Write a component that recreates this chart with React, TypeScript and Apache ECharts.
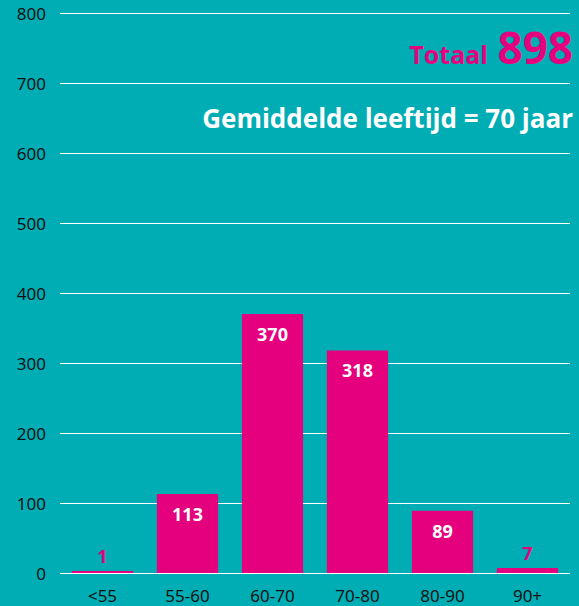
import React, { useEffect, useRef } from "react";
import * as echarts from "echarts";

const categories = ["<55", "55-60", "60-70", "70-80", "80-90", "90+"];
const values = [1, 113, 370, 318, 89, 7];
const yTicks = { min: 0, max: 800, interval: 100 };
const totalLabel = "Totaal";
const totalValue = "898";
const subtitle = "Gemiddelde leeftijd = 70 jaar";

const TEAL = "#00ADB4";
const MAGENTA = "#E5007E";

export default function App() {
  const ref = useRef<HTMLDivElement>(null);
  useEffect(() => {
    if (!ref.current) return;
    const chart = echarts.init(ref.current, null, { renderer: "svg" });
    const data = values.map((v) => {
      const small = v < 50;
      return {
        value: v,
        label: small
          ? { position: "top", color: MAGENTA, distance: 6 }
          : { position: "insideTop", color: "#fff", distance: 11 },
      };
    });
    chart.setOption({
      animation: false,
      backgroundColor: TEAL,
      grid: { left: 60, right: 9, top: 13, bottom: 33 },
      textStyle: { fontFamily: "Noto Sans" },
      xAxis: {
        type: "category",
        data: categories,
        axisLine: { show: false },
        axisTick: { show: false },
        axisLabel: { color: "#111", fontSize: 17, margin: 14, fontFamily: "Noto Sans" },
      },
      yAxis: {
        type: "value",
        min: yTicks.min,
        max: yTicks.max,
        interval: yTicks.interval,
        axisLine: { show: false },
        axisTick: { show: false },
        axisLabel: { color: "#111", fontSize: 17, margin: 14, fontFamily: "Noto Sans" },
        splitLine: { lineStyle: { color: "#fff", width: 1 } },
      },
      series: [
        {
          type: "bar",
          data,
          barCategoryGap: "28%",
          itemStyle: { color: MAGENTA },
          barMinHeight: 2,
          label: {
            show: true,
            fontSize: 18,
            fontWeight: "bold",
            fontFamily: "Open Sans",
          },
        },
      ],
      graphic: [
        {
          type: "text",
          x: 573,
          y: 47,
          style: {
            text: totalValue,
            fontSize: 44,
            fontWeight: "bold",
            fill: MAGENTA,
            fontFamily: "Open Sans",
            align: "right",
            verticalAlign: "middle",
          },
        },
        {
          type: "text",
          x: 488,
          y: 54,
          style: {
            text: totalLabel,
            fontSize: 25,
            fontWeight: "bold",
            fill: MAGENTA,
            fontFamily: "Open Sans",
            align: "right",
            verticalAlign: "middle",
          },
        },
        {
          type: "text",
          x: 573,
          y: 118,
          style: {
            text: subtitle,
            fontSize: 26,
            fontWeight: "bold",
            fill: "#fff",
            fontFamily: "Open Sans",
            align: "right",
            verticalAlign: "middle",
          },
        },
      ],
    });
    return () => chart.dispose();
  }, []);
  return <div ref={ref} style={{ width: 579, height: 606, position: "absolute", left: 0, top: 0 }} />;
}
